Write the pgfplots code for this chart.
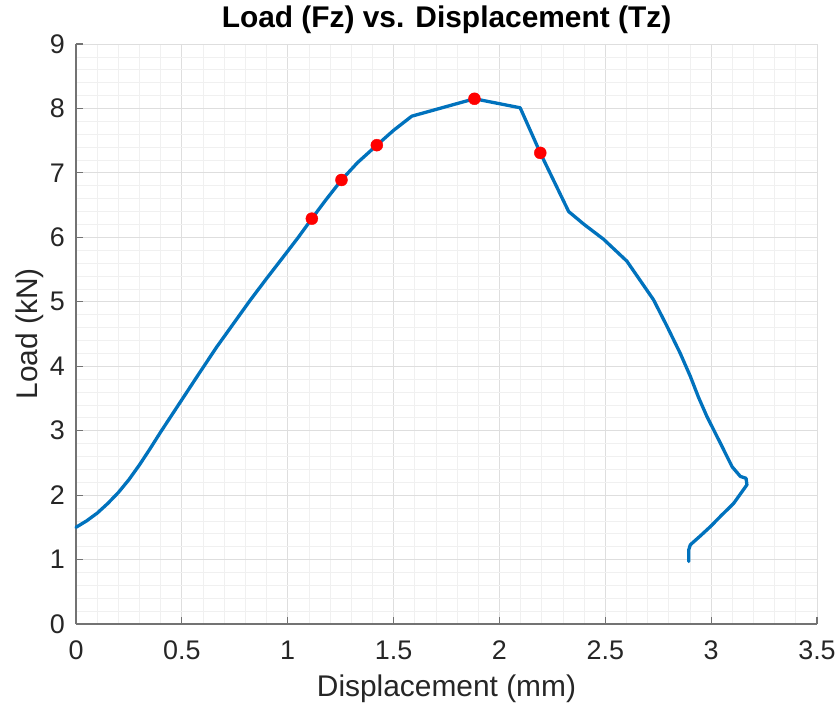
\documentclass[border=0pt]{standalone}
\usepackage{fontspec}
\setmainfont{Liberation Sans}
\usepackage{pgfplots}
\pgfplotsset{compat=1.18}

\definecolor{mblue}{HTML}{0072BD}
\definecolor{axgray}{HTML}{262626}

% load-displacement record
\pgfplotstableread{
x y
0     1.50
0.05  1.60
0.10  1.72
0.15  1.87
0.20  2.04
0.25  2.24
0.30  2.47
0.35  2.72
0.40  2.98
0.45  3.23
0.50  3.48
0.58  3.88
0.665 4.30
0.75  4.69
0.822 5.02
0.90  5.36
0.98  5.70
1.05  6.00
1.114 6.29
1.18  6.58
1.254 6.89
1.33  7.16
1.421 7.43
1.50  7.66
1.586 7.88
1.882 8.15
2.098 8.01
2.193 7.31
2.327 6.40
2.40  6.20
2.492 5.97
2.602 5.63
2.665 5.33
2.728 5.03
2.79  4.63
2.854 4.20
2.902 3.84
2.94  3.52
2.98  3.22
3.043 2.81
3.099 2.44
3.138 2.29
3.165 2.26
3.169 2.16
3.106 1.87
3.05  1.69
2.996 1.51
2.95  1.37
2.902 1.23
2.894 1.15
2.894 0.97
}\curve

% selected points
\pgfplotstableread{
x y
1.114 6.29
1.254 6.89
1.421 7.43
1.882 8.15
2.193 7.31
}\marked

\begin{document}
\begin{tikzpicture}
\begin{axis}[
  name=ax,
  scale only axis,
  width=741bp, height=580bp,
  xmin=0, xmax=3.5, ymin=0, ymax=9,
  xtick={0,0.5,...,3.5},
  ytick={0,1,...,9},
  minor x tick num=4,
  minor y tick num=4,
  grid=both,
  major grid style={draw=black!13, line width=0.8bp},
  minor grid style={draw=black!6, line width=0.7bp},
  axis x line*=bottom,
  axis y line*=left,
  axis line style={draw=black!55, line width=1.2bp, -},
  tick align=inside,
  major tick length=7bp,
  minor tick length=0bp,
  tick style={draw=black!55, line width=1.2bp},
  /pgf/number format/assume math mode=true,
  ticklabel style={font=\fontsize{27}{32}\selectfont, text=axgray, inner sep=0pt},
  xticklabel style={anchor=base, yshift=-36bp},
  yticklabel style={anchor=east, xshift=-11bp},
  title={Load (Fz) vs. Displacement (Tz)},
  title style={font=\fontsize{30}{36}\selectfont\bfseries, text=black,
    at={(axis description cs:0.5,1.0184)}, anchor=base, inner sep=0pt},
  xlabel={Displacement (mm)},
  xlabel style={font=\fontsize{30}{36}\selectfont, text=axgray,
    at={(axis description cs:0.5,-0.1253)}, anchor=base, inner sep=0pt},
  ylabel={Load (kN)},
  ylabel style={font=\fontsize{30}{36}\selectfont, text=axgray,
    at={(axis description cs:-0.0526,0.5)}, anchor=base, inner sep=0pt},
  clip=false,
]
\addplot[mblue, line width=3.3bp, line join=round, line cap=round] table[x=x, y=y] {\curve};
\addplot[only marks, mark=*, mark size=6bp, mark options={fill=red, draw=red}] table[x=x, y=y] {\marked};
\end{axis}
\pgfresetboundingbox
\path[use as bounding box] ([shift={(-76bp,-80bp)}]ax.south west) rectangle ([shift={(22bp,44bp)}]ax.north east);
\end{tikzpicture}
\end{document}
